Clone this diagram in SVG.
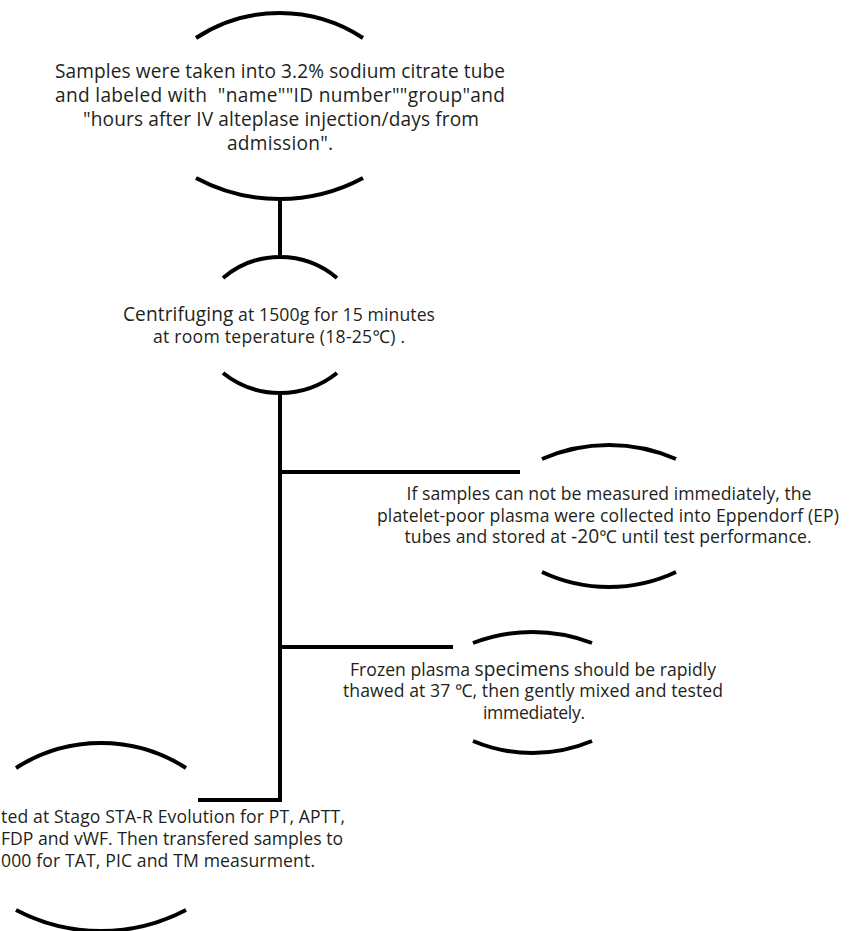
<svg xmlns="http://www.w3.org/2000/svg" width="856" height="931" viewBox="0 0 856 931">
<style>
.arc{fill:none;stroke:#000;stroke-width:4}
.ln{fill:none;stroke:#000;stroke-width:4}
.t{font-family:"Open Sans","Noto Sans","Liberation Sans",sans-serif;fill:#231f20;font-size:17.6px}
.tl{font-size:19.1px}
.c{text-anchor:middle}
</style>
<rect width="856" height="931" fill="#fff"/>
<g id="connectors">
<path class="ln" d="M280,199 V257"/>
<path class="ln" d="M280,393 V800 H198"/>
<path class="ln" d="M280,472 H520"/>
<path class="ln" d="M280,647 H453"/>
</g>
<g id="node1">
<path class="arc" d="M196,38 A152,152 0 0 1 363,38"/>
<path class="arc" d="M196,178 A176.5,176.5 0 0 0 363,178"/>
<text class="t tl c" x="280" y="78" textLength="450">Samples were taken into 3.2% sodium citrate tube</text>
<text class="t tl c" x="280" y="102" textLength="450" xml:space="preserve">and labeled with  "name""ID number""group"and</text>
<text class="t tl c" x="281" y="126" textLength="396">"hours after IV alteplase injection/days from</text>
<text class="t tl c" x="280" y="150" textLength="106">admission".</text>
</g>
<g id="node2">
<path class="arc" d="M223,278 A87.9,87.9 0 0 1 337,278"/>
<path class="arc" d="M223,373 A91.2,91.2 0 0 0 337,373"/>
<text class="t c" x="279" y="321" textLength="312"><tspan class="tl">Centrifuging</tspan> at 1500g for 15 minutes</text>
<text class="t c" x="279" y="343" textLength="252">at room teperature (18-25℃) .</text>
</g>
<g id="node3">
<path class="arc" d="M542,459 A167.3,167.3 0 0 1 676,459"/>
<path class="arc" d="M542,572 A157,157 0 0 0 676,572"/>
<text class="t c" x="609" y="500" textLength="405">If samples can not be measured immediately, the</text>
<text class="t c" x="608" y="522" textLength="462">platelet-poor plasma were collected into Eppendorf (EP)</text>
<text class="t c" x="608" y="543" textLength="407">tubes and stored at <tspan class="tl">-20</tspan>℃ until test performance.</text>
</g>
<g id="node4">
<path class="arc" d="M473,643 A166.4,166.4 0 0 1 592,643"/>
<path class="arc" d="M473,741 A153.5,153.5 0 0 0 592,741"/>
<text class="t c" x="533" y="676" textLength="366">Frozen plasma <tspan class="tl">specimens</tspan> should be rapidly</text>
<text class="t c" x="533" y="697" textLength="380">thawed at 37 ℃, then gently mixed and tested</text>
<text class="t c" x="534" y="719" textLength="102">immediately.</text>
</g>
<g id="node5">
<path class="arc" d="M16,768 A157,157 0 0 1 186,768"/>
<path class="arc" d="M16,910 A182.5,182.5 0 0 0 186,910"/>
<text class="t" x="1" y="823" textLength="344">ted at Stago STA-R Evolution for PT, APTT,</text>
<text class="t" x="1" y="845" textLength="342">FDP and vWF. Then transfered samples to</text>
<text class="t" x="1" y="867" textLength="314">000 for TAT, PIC and TM measurment.</text>
</g>
</svg>
